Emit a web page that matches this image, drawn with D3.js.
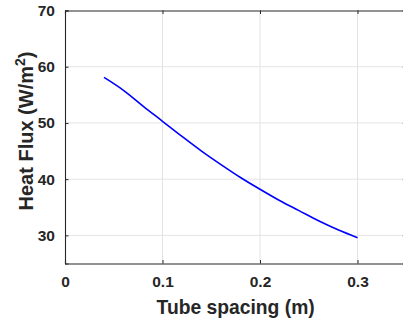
<!doctype html>
<html>
<head>
<meta charset="utf-8">
<title>Heat Flux vs Tube spacing</title>
<script src="https://d3js.org/d3.v7.min.js"></script>
<style>
    html, body { margin: 0; padding: 0; background: #fff; overflow: hidden; }
    svg { display: block; font-family: "Liberation Sans", Arial, sans-serif; }
</style>
</head>
<body>
<script>
    // data
    var spacing = [0.04, 0.06, 0.08, 0.10, 0.12, 0.14, 0.16, 0.18, 0.20, 0.22, 0.24, 0.26, 0.28, 0.30];
    var heatFlux = [58.1, 55.8, 53.0, 50.3, 47.6, 45.0, 42.6, 40.3, 38.2, 36.2, 34.4, 32.6, 31.0, 29.6];
    var xTicks = [0, 0.1, 0.2, 0.3];
    var yTicks = [30, 40, 50, 60, 70];

    var W = 403, H = 325;
    var plotLeft = 65, plotTop = 10.5, plotBottom = 263.5;

    var x = d3.scaleLinear().domain([0, 0.35]).range([plotLeft, plotLeft + 341.25]);
    var y = d3.scaleLinear().domain([25, 70]).range([plotBottom, plotTop]);

    var svg = d3.select('body').append('svg')
        .attr('width', W)
        .attr('height', H);

    // grid
    svg.append('g').selectAll('line')
        .data(xTicks.slice(1))
        .enter().append('line')
        .attr('x1', d => x(d)).attr('x2', d => x(d))
        .attr('y1', plotTop).attr('y2', plotBottom)
        .attr('stroke', '#e3e3e3').attr('stroke-width', 1);
    svg.append('g').selectAll('line')
        .data(yTicks.slice(0, -1))
        .enter().append('line')
        .attr('x1', plotLeft).attr('x2', x(0.35))
        .attr('y1', d => y(d)).attr('y2', d => y(d))
        .attr('stroke', '#e3e3e3').attr('stroke-width', 1);

    // the curve
    var line = d3.line()
        .x((d, i) => x(spacing[i]))
        .y(d => y(d))
        .curve(d3.curveMonotoneX);
    svg.append('path')
        .datum(heatFlux)
        .attr('d', line)
        .attr('fill', 'none')
        .attr('stroke', '#0000ff')
        .attr('stroke-width', 1.6);

    // axes (ticks inward, on all four sides)
    var tickLen = 3.5;
    var bottomAxis = d3.axisBottom(x).tickValues(xTicks).tickSize(-tickLen).tickPadding(12)
        .tickFormat(d3.format('~g'));
    var topAxis = d3.axisTop(x).tickValues(xTicks).tickSize(-tickLen).tickFormat('');
    var leftAxis = d3.axisLeft(y).tickValues(yTicks).tickSize(-tickLen).tickPadding(10);
    var rightAxis = d3.axisRight(y).tickValues(yTicks).tickSize(-tickLen).tickFormat('');

    function style(g) {
        g.select('.domain').attr('stroke', '#262626').attr('stroke-width', 1.1);
        g.selectAll('.tick line').attr('stroke', '#262626');
        g.selectAll('.tick text')
            .attr('fill', '#262626')
            .style('font-size', '15.5px')
            .style('font-weight', 'bold')
            .style('font-family', '"Liberation Sans", Arial, sans-serif');
    }

    svg.append('g').attr('transform', 'translate(0,' + plotBottom + ')').call(bottomAxis).call(style);
    svg.append('g').attr('transform', 'translate(0,' + plotTop + ')').call(topAxis).call(style);
    svg.append('g').attr('transform', 'translate(' + plotLeft + ',0)').call(leftAxis).call(style);
    svg.append('g').attr('transform', 'translate(' + x(0.35) + ',0)').call(rightAxis).call(style);

    // axis labels
    svg.append('text')
        .attr('x', (plotLeft + x(0.35)) / 2)
        .attr('y', 314)
        .attr('text-anchor', 'middle')
        .attr('fill', '#262626')
        .style('font-size', '19.3px')
        .style('font-weight', 'bold')
        .text('Tube spacing (m)');

    var yl = svg.append('text')
        .attr('transform', 'translate(32.5,' + ((plotTop + plotBottom) / 2 - 6) + ') rotate(-90)')
        .attr('text-anchor', 'middle')
        .attr('fill', '#262626')
        .style('font-size', '20px')
        .style('font-weight', 'bold');
    yl.append('tspan').text('Heat Flux (W/m');
    yl.append('tspan').attr('dy', -8).style('font-size', '14px').text('2');
    yl.append('tspan').attr('dy', 8).text(')');
</script>
</body>
</html>
